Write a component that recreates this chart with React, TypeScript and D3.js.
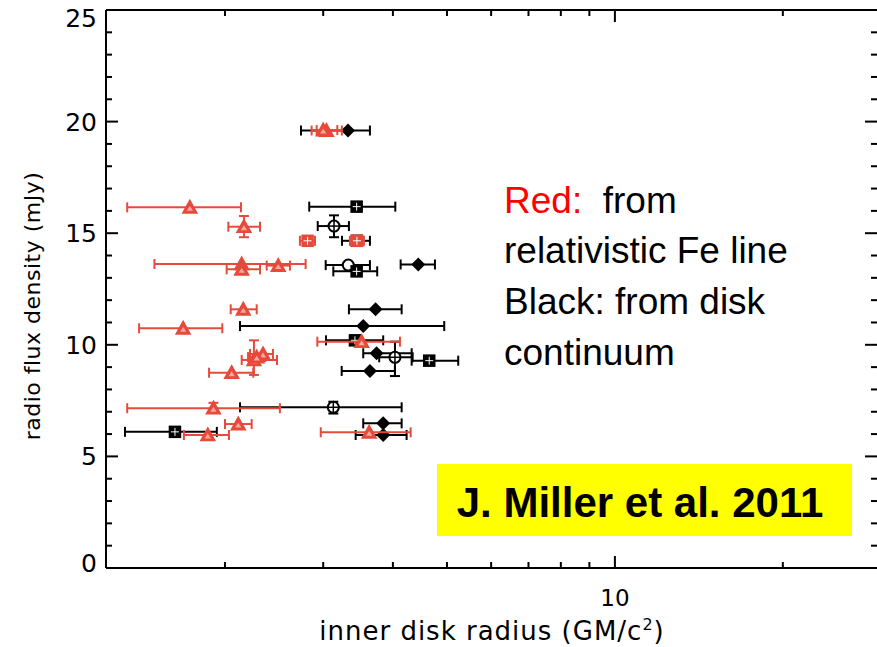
import React from "react";
import * as d3 from "d3";

// ---- Data ----
// Red: from relativistic Fe line
const redX = [3.04, 3.0, 1.73, 2.163, 2.813, 3.448, 2.143, 2.143, 2.492, 2.157, 1.683, 3.516, 2.254, 2.34, 2.28, 2.056, 1.907, 2.113, 1.863, 3.627];
const redXLo = [2.86, 2.92, 1.336, 2.028, 2.725, 3.35, 1.495, 2.014, 2.376, 2.048, 1.403, 2.928, 2.143, 2.218, 2.2, 1.873, 1.336, 2.0, 1.688, 2.97];
const redXHi = [3.24, 3.18, 2.137, 2.311, 2.9, 3.549, 2.79, 2.311, 2.615, 2.28, 1.978, 4.118, 2.479, 2.438, 2.36, 2.248, 2.509, 2.233, 2.033, 4.304];
const redY = [19.6, 19.62, 16.16, 15.29, 14.66, 14.66, 13.62, 13.38, 13.55, 11.59, 10.74, 10.14, 9.32, 9.59, 9.45, 8.75, 7.16, 6.45, 5.96, 6.08];
const redYLo: (number | null)[] = [null, null, null, 14.82, null, null, null, null, null, null, null, null, 8.65, null, null, null, 6.95, null, null, null];
const redYHi: (number | null)[] = [null, null, null, 15.77, null, null, null, null, null, null, null, null, 10.2, null, null, null, 7.4, null, null, null];
const redShape = ["tri", "tri", "tri", "tri", "square", "square", "tri", "tri", "tri", "tri", "tri", "tri", "tri", "tri", "tri", "tri", "tri", "tri", "tri", "tri"];

// Black: from disk continuum
const blackX = [3.323, 3.444, 3.137, 3.448, 3.327, 3.444, 4.441, 3.724, 3.539, 3.42, 3.739, 4.034, 4.647, 3.638, 3.128, 3.843, 1.627, 3.843];
const blackXLo = [2.737, 2.832, 2.933, 3.242, 3.031, 3.128, 4.13, 3.336, 2.128, 3.035, 3.539, 3.78, 4.322, 3.238, 2.128, 3.539, 1.324, 3.43];
const blackXHi = [3.638, 4.04, 3.336, 3.638, 3.638, 3.749, 4.758, 4.147, 4.944, 3.843, 4.322, 4.34, 5.238, 4.034, 4.147, 4.147, 1.934, 4.233];
const blackY = [19.6, 16.19, 15.32, 14.66, 13.57, 13.29, 13.6, 11.59, 10.84, 10.2, 9.62, 9.44, 9.29, 8.83, 7.2, 6.48, 6.1, 5.96];
const blackYLo: (number | null)[] = [null, null, 14.82, null, null, null, null, null, null, null, null, 8.6, null, null, 6.92, null, null, null];
const blackYHi: (number | null)[] = [null, null, 15.8, null, null, null, null, null, null, null, null, 10.14, null, null, 7.45, null, null, null];
const blackShape = ["diamond", "square", "circle", "square", "ocircle", "square", "diamond", "diamond", "diamond", "square", "diamond", "circle", "square", "diamond", "circle", "diamond", "square", "diamond"];

const xMajorTicks = [10];
const xMinorTicks = [2, 3, 4, 5, 6, 7, 8, 9, 20];
const xTickLabels = ["10"];
const yMajorTicks = [0, 5, 10, 15, 20, 25];
const yTickLabels = ["0", "5", "10", "15", "20", "25"];

const noteLines = ["relativistic Fe line", "Black: from disk", "continuum"];
const citation = "J. Miller et al. 2011";

const W = 877;
const H = 647;
const L = 106, R = 877, T = 10, B = 568;
const RED = "#e64a3b";

export default function App() {
  const x = d3.scaleLog().domain([1.224, 29.5]).range([L, R]);
  const y = d3.scaleLinear().domain([0, 25]).range([B, T]);
  const yMinor = d3.range(0, 26, 1).filter((v) => v % 5 !== 0);
  const font = "'DejaVu Sans', sans-serif";

  const marker = (shape: string, cx: number, cy: number, color: string, key: string) => {
    if (shape === "tri") {
      const s = 7;
      const pts = [[cx, cy - s], [cx + s, cy + s * 0.8], [cx - s, cy + s * 0.8]];
      const p2 = [[cx, cy - s * 0.2], [cx + s * 0.45, cy + s * 0.5], [cx - s * 0.45, cy + s * 0.5]];
      return (
        <g key={key}>
          <polygon points={pts.map((p) => p.join(",")).join(" ")} fill={color} stroke={color} strokeWidth={1.5} />
          <polygon points={p2.map((p) => p.join(",")).join(" ")} fill="#f4a9a0" />
        </g>
      );
    }
    if (shape === "square") {
      const s = 5.5;
      return (
        <g key={key}>
          <rect x={cx - s} y={cy - s} width={2 * s} height={2 * s} fill={color} stroke={color} strokeWidth={1.5} />
          <line x1={cx - s + 1.5} x2={cx + s - 1.5} y1={cy} y2={cy} stroke="#fff" strokeWidth={1} />
          <line x1={cx} x2={cx} y1={cy - s + 1.5} y2={cy + s - 1.5} stroke="#fff" strokeWidth={1} />
        </g>
      );
    }
    if (shape === "diamond") {
      const s = 7;
      return <polygon key={key} points={`${cx},${cy - s} ${cx + s},${cy} ${cx},${cy + s} ${cx - s},${cy}`} fill={color} />;
    }
    if (shape === "circle" || shape === "ocircle") {
      return (
        <g key={key}>
          <circle cx={cx} cy={cy} r={5.5} fill="#fff" stroke={color} strokeWidth={2} />
          {shape === "circle" && <line x1={cx - 5.5} x2={cx + 5.5} y1={cy} y2={cy} stroke={color} strokeWidth={1.5} />}
          {shape === "circle" && <line x1={cx} x2={cx} y1={cy - 5.5} y2={cy + 5.5} stroke={color} strokeWidth={1.5} />}
        </g>
      );
    }
    return null;
  };

  const errBars = (
    xs: number[], xlo: number[], xhi: number[], ys: number[],
    ylo: (number | null)[], yhi: (number | null)[], color: string, prefix: string
  ) =>
    xs.map((xv, i) => {
      const cx = x(xv), cy = y(ys[i]);
      const a = x(xlo[i]), b = x(xhi[i]);
      const cap = 5;
      return (
        <g key={prefix + i} stroke={color} strokeWidth={2} fill="none">
          <line x1={a} x2={b} y1={cy} y2={cy} />
          <line x1={a} x2={a} y1={cy - cap} y2={cy + cap} />
          <line x1={b} x2={b} y1={cy - cap} y2={cy + cap} />
          {ylo[i] != null && yhi[i] != null && (
            <g>
              <line x1={cx} x2={cx} y1={y(ylo[i] as number)} y2={y(yhi[i] as number)} />
              <line x1={cx - cap} x2={cx + cap} y1={y(ylo[i] as number)} y2={y(ylo[i] as number)} />
              <line x1={cx - cap} x2={cx + cap} y1={y(yhi[i] as number)} y2={y(yhi[i] as number)} />
            </g>
          )}
        </g>
      );
    });

  return (
    <svg width={W} height={H} style={{ position: "absolute", left: 0, top: 0, background: "#fff" }}>
      <rect x={0} y={0} width={W} height={H} fill="#fff" />
      {/* frame */}
      <g stroke="#000" strokeWidth={2} fill="none">
        <line x1={L} x2={R} y1={B} y2={B} />
        <line x1={L} x2={R} y1={T} y2={T} />
        <line x1={L} x2={L} y1={T} y2={B} />
        {xMajorTicks.map((v) => (
          <g key={"xM" + v}>
            <line x1={x(v)} x2={x(v)} y1={B} y2={B - 12} />
            <line x1={x(v)} x2={x(v)} y1={T} y2={T + 12} />
          </g>
        ))}
        {xMinorTicks.map((v) => (
          <g key={"xm" + v}>
            <line x1={x(v)} x2={x(v)} y1={B} y2={B - 6} />
            <line x1={x(v)} x2={x(v)} y1={T} y2={T + 6} />
          </g>
        ))}
        {yMajorTicks.map((v) => (
          <g key={"yM" + v}>
            <line x1={L} x2={L + 12} y1={y(v)} y2={y(v)} />
            <line x1={R} x2={R - 12} y1={y(v)} y2={y(v)} />
          </g>
        ))}
        {yMinor.map((v) => (
          <g key={"ym" + v}>
            <line x1={L} x2={L + 6} y1={y(v)} y2={y(v)} />
            <line x1={R} x2={R - 6} y1={y(v)} y2={y(v)} />
          </g>
        ))}
      </g>
      {/* tick labels */}
      {yMajorTicks.map((v, i) => (
        <text key={"yl" + v} x={L - 9} y={Math.min(Math.max(y(v), 18), 563)} dy="0.36em" textAnchor="end" fontFamily={font} fontSize={25}>
          {yTickLabels[i]}
        </text>
      ))}
      {xMajorTicks.map((v, i) => (
        <text key={"xl" + v} x={x(v)} y={606} textAnchor="middle" fontFamily={font} fontSize={23}>
          {xTickLabels[i]}
        </text>
      ))}
      <text x={492} y={640} textAnchor="middle" fontFamily={font} fontSize={26} letterSpacing={1}>
        inner disk radius (GM/c<tspan dy={-10} fontSize={16}>2</tspan><tspan dy={10}>)</tspan>
      </text>
      <text transform="translate(40,306) rotate(-90)" textAnchor="middle" fontFamily={font} fontSize={22} letterSpacing={0.5}>
        radio flux density (mJy)
      </text>

      {/* data */}
      {errBars(blackX, blackXLo, blackXHi, blackY, blackYLo, blackYHi, "#000", "be")}
      {blackX.map((v, i) => marker(blackShape[i], x(v), y(blackY[i]), "#000", "bm" + i))}
      {errBars(redX, redXLo, redXHi, redY, redYLo, redYHi, RED, "re")}
      {redX.map((v, i) => marker(redShape[i], x(v), y(redY[i]), RED, "rm" + i))}

      {/* annotation */}
      <g fontFamily="'Liberation Sans', Arial, sans-serif" fontSize={37}>
        <text x={504} y={213}>
          <tspan fill="#ff0000">Red:</tspan>
          <tspan fill="#000">{"\u00a0\u00a0from"}</tspan>
        </text>
        {noteLines.map((t, i) => (
          <text key={t} x={504} y={263 + i * 51} fill="#000">{t}</text>
        ))}
      </g>
      <rect x={437} y={464} width={415} height={72} fill="#ffff00" />
      <text x={640} y={517} textAnchor="middle" fontFamily="'Liberation Sans', Arial, sans-serif" fontWeight="bold" fontSize={42}>
        {citation}
      </text>
    </svg>
  );
}
